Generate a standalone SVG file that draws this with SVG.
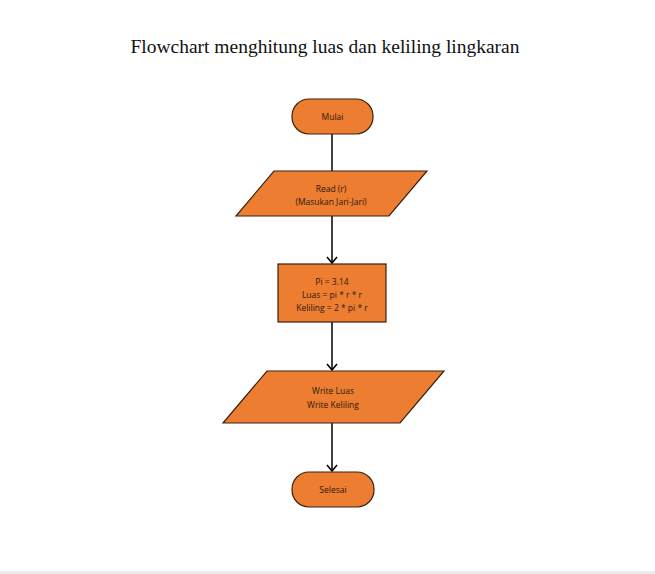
<svg xmlns="http://www.w3.org/2000/svg" width="655" height="574" viewBox="0 0 655 574">
<defs>
<style>
.shape{fill:#ED7D31;stroke:#3a2210;stroke-width:1.2}
.lbl{font-family:"Open Sans","Liberation Sans",sans-serif;font-size:8.5px;fill:#2a1a10;text-anchor:middle}
.title{font-family:"Liberation Serif","DejaVu Serif",serif;font-size:19px;fill:#111;text-anchor:middle}
.conn{stroke:#000;stroke-width:1.5;fill:none}
</style>
<marker id="arr" markerWidth="10" markerHeight="12" viewBox="0 0 10 12" refX="8" refY="6" orient="auto" markerUnits="userSpaceOnUse">
<path d="M2,1 L8,6 L2,11" fill="none" stroke="#000" stroke-width="1.5"/>
</marker>
</defs>
<rect width="655" height="574" fill="#fff"/>
<rect x="0" y="571" width="655" height="3" fill="#ececec"/>
<text class="title" x="325" y="53" textLength="389" lengthAdjust="spacingAndGlyphs">Flowchart menghitung luas dan keliling lingkaran</text>
<g id="connectors">
<line class="conn" x1="332" y1="134" x2="332" y2="171"/>
<path class="conn" d="M332,216 V263" marker-end="url(#arr)"/>
<path class="conn" d="M332,322 V370" marker-end="url(#arr)"/>
<path class="conn" d="M332,423 V471" marker-end="url(#arr)"/>
</g>
<g id="mulai">
<rect class="shape" x="292" y="99" width="81" height="35" rx="17" ry="17"/>
<text class="lbl" x="332.5" y="120">Mulai</text>
</g>
<g id="read">
<polygon class="shape" points="274,171 427,171 389,216 236,216"/>
<text class="lbl" x="331" y="192">Read (r)</text>
<text class="lbl" x="331" y="205">(Masukan Jari-Jari)</text>
</g>
<g id="proses">
<rect class="shape" x="278" y="264" width="108" height="58"/>
<text class="lbl" x="332" y="285">Pi = 3.14</text>
<text class="lbl" x="332" y="297.5">Luas = pi * r * r</text>
<text class="lbl" x="332" y="311">Keliling = 2 * pi * r</text>
</g>
<g id="write">
<polygon class="shape" points="267,371 444,371 400,423 223,423"/>
<text class="lbl" x="333" y="394">Write Luas</text>
<text class="lbl" x="333" y="408">Write Keliling</text>
</g>
<g id="selesai">
<rect class="shape" x="292" y="472" width="82" height="35" rx="17" ry="17"/>
<text class="lbl" x="333" y="493">Selesai</text>
</g>
</svg>
